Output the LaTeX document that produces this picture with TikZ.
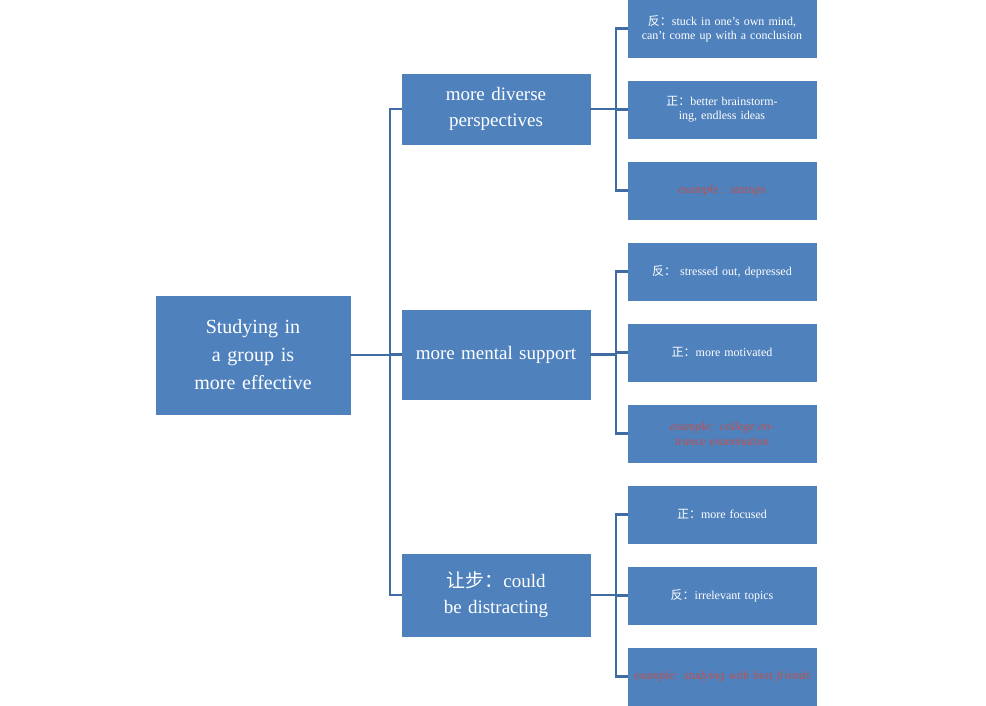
\documentclass[tikz,border=0pt]{standalone}
\usepackage{fontspec}
\setmainfont{Liberation Serif}
\newfontfamily\cjk{Noto Sans CJK SC}
\begin{document}
\begin{tikzpicture}[x=1pt,y=-1pt,
 box/.style={fill={rgb,255:red,79;green,129;blue,189},draw={rgb,255:red,79;green,129;blue,189},text=white,align=center,inner sep=2pt},
 leaf/.style={box,minimum width=188pt,minimum height=57pt,text width=180pt,font=\fontsize{12}{14}\selectfont},
 mid/.style={box,minimum width=188pt,text width=180pt,font=\fontsize{19}{26}\selectfont},
 ex/.style={text={rgb,255:red,192;green,80;blue,77},font=\fontsize{12}{15}\itshape\selectfont},
 con/.style={draw={rgb,255:red,63;green,108;blue,165},line width=2.5pt}]
\useasboundingbox (0,0) rectangle (986,705);
\node[box,minimum width=194pt,minimum height=118pt,text width=150pt,font=\fontsize{20}{28}\selectfont] (r) at (253,355) {Studying in a group is more effective};
\node[mid,minimum height=70pt] (m1) at (496,109) {more diverse perspectives};
\node[mid,minimum height=89pt] (m2) at (496,354.5) {more mental support};
\node[mid,minimum height=82pt] (m3) at (496,595) {{\cjk 让步：}could be distracting};
\node[leaf] (a1) at (722,28.5) {{\cjk 反：}stuck in one's own mind, can't come up with a conclusion};
\node[leaf] (a2) at (722,109.5) {{\cjk 正：}better brainstorming, endless ideas};
\node[leaf,ex] (a3) at (722,190.5) {example\,: starups};
\node[leaf] (b1) at (722,271.5) {{\cjk 反：} stressed out, depressed};
\node[leaf] (b2) at (722,352.5) {{\cjk 正：}more motivated};
\node[leaf,ex] (b3) at (722,433.5) {example: college entrance examination};
\node[leaf] (c1) at (722,514.5) {{\cjk 正：}more focused};
\node[leaf] (c2) at (722,595.5) {{\cjk 反：}irrelevant topics};
\node[leaf,ex] (c3) at (722,676.5) {example: studying with best friends};
\coordinate (t) at (390,0);
\draw[con] (r.east) -- (t|-r.east);
\draw[con] (m1.west) -- (t|-m1.west) -- (t|-m3.west) -- (m3.west);
\draw[con] (t|-m2.west) -- (m2.west);
\foreach \m/\p in {m1/a,m2/b,m3/c}{
 \coordinate (s) at (616,0);
 \draw[con] (\m.east) -- (s|-\m.east);
 \draw[con] (\p1.west) -- (s|-\p1.west) -- (s|-\p3.west) -- (\p3.west);
 \draw[con] (s|-\p2.west) -- (\p2.west);
}
\end{tikzpicture}
\end{document}
